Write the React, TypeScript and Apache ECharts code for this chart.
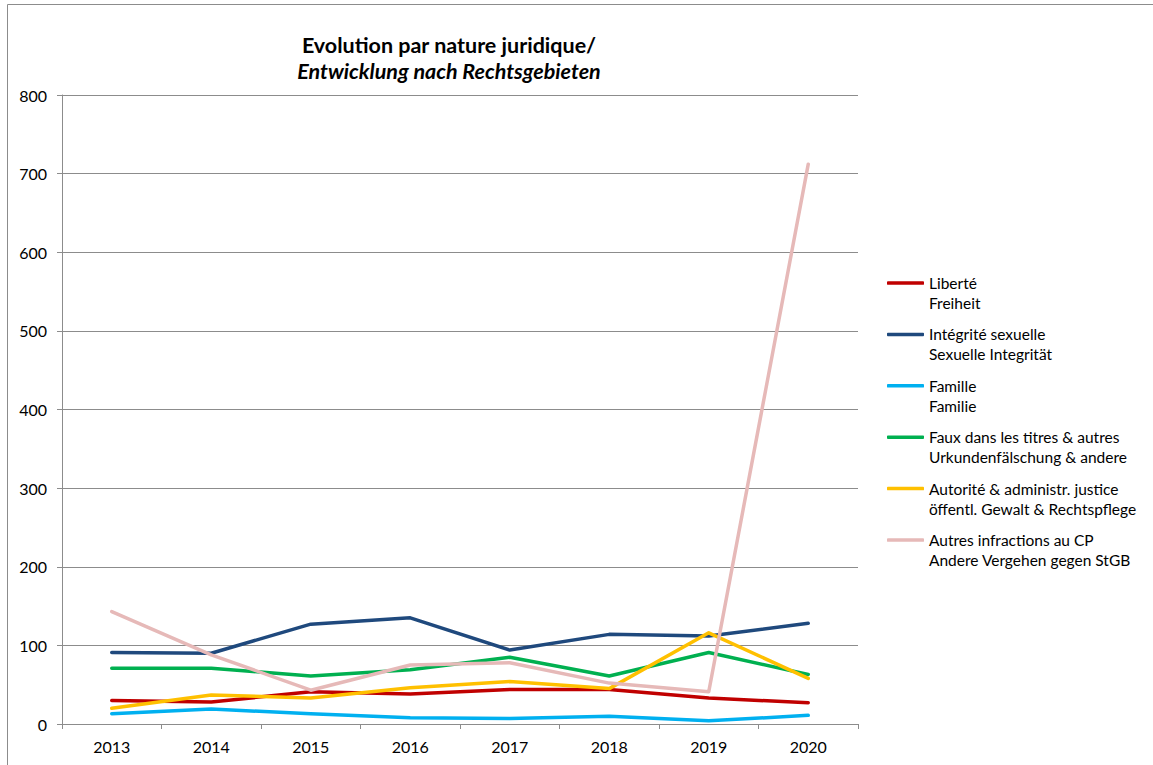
import React, { useEffect, useRef } from "react";
import * as echarts from "echarts";

const years = ["2013", "2014", "2015", "2016", "2017", "2018", "2019", "2020"];
const liberte = [30, 28, 41, 38, 44, 44, 33, 27];
const integrite = [91, 90, 127, 135, 94, 114, 112, 128];
const famille = [13, 19, 13, 8, 7, 10, 4, 11];
const faux = [71, 71, 61, 69, 85, 61, 91, 63];
const autorite = [20, 37, 33, 46, 54, 45, 116, 58];
const autres = [143, 88, 43, 75, 78, 52, 41, 712];

const seriesNames = [
  "Liberté\nFreiheit",
  "Intégrité sexuelle\nSexuelle Integrität",
  "Famille\nFamilie",
  "Faux dans les titres & autres\nUrkundenfälschung & andere",
  "Autorité & administr. justice\nöffentl. Gewalt & Rechtspflege",
  "Autres infractions au CP\nAndere Vergehen gegen StGB",
];
const seriesData = [liberte, integrite, famille, faux, autorite, autres];
const colors = ["#C00000", "#1F497D", "#00B0F0", "#00B050", "#FFC000", "#E6B9B8"];

const FONT = "Lato, 'Open Sans', sans-serif";

export default function App() {
  const ref = useRef<HTMLDivElement>(null);
  useEffect(() => {
    if (!ref.current) return;
    const chart = echarts.init(ref.current, undefined, { renderer: "svg" });
    chart.setOption({
      animation: false,
      backgroundColor: "#fff",
      textStyle: { fontFamily: FONT },
      grid: { left: 62, right: 295, top: 95, bottom: 41, containLabel: false },
      graphic: [
        {
          type: "rect",
          shape: { x: 7.5, y: 4.5, width: 1300, height: 900 },
          style: { fill: "none", stroke: "#8c8c8c", lineWidth: 1 },
          silent: true,
        },
        {
          type: "text",
          x: 449,
          y: 45,
          style: {
            text: "Evolution par nature juridique/",
            fontFamily: FONT,
            fontSize: 21.5,
            fontWeight: "bold",
            fill: "#000",
            align: "center",
            verticalAlign: "middle",
          },
        },
        {
          type: "text",
          x: 449,
          y: 71,
          style: {
            text: "Entwicklung nach Rechtsgebieten",
            fontFamily: FONT,
            fontSize: 21.5,
            fontWeight: "bold",
            fontStyle: "italic",
            fill: "#000",
            align: "center",
            verticalAlign: "middle",
          },
        },
      ],
      legend: {
        orient: "vertical",
        left: 887,
        top: 253,
        padding: 0,
        itemGap: -8.6,
        itemWidth: 37,
        itemHeight: 3.5,
        icon: "roundRect",
        data: seriesNames,
        formatter: (name: string) => " \n" + name,
        textStyle: {
          fontFamily: FONT,
          fontSize: 15.5,
          color: "#000",
          lineHeight: 20,
        },
      },
      xAxis: {
        type: "category",
        data: years,
        boundaryGap: true,
        axisLine: { show: true, lineStyle: { color: "#8c8c8c", width: 1 } },
        axisTick: { show: true, length: 5, lineStyle: { color: "#8c8c8c" } },
        axisLabel: { color: "#000", fontSize: 16, margin: 14, fontFamily: FONT },
        splitLine: { show: false },
      },
      yAxis: {
        type: "value",
        min: 0,
        max: 800,
        interval: 100,
        axisLine: { show: true, lineStyle: { color: "#8c8c8c", width: 1 } },
        axisTick: { show: true, length: 5, lineStyle: { color: "#8c8c8c" } },
        axisLabel: { color: "#000", fontSize: 16, margin: 15, fontFamily: FONT },
        splitLine: { show: true, lineStyle: { color: "#8c8c8c", width: 1 } },
      },
      series: seriesData.map((d, i) => ({
        name: seriesNames[i],
        type: "line",
        data: d,
        symbol: "none",
        showSymbol: false,
        lineStyle: { color: colors[i], width: 3.5, cap: "round", join: "round" },
        itemStyle: { color: colors[i] },
      })),
    });
    return () => chart.dispose();
  }, []);
  return (
    <div
      ref={ref}
      style={{ position: "fixed", left: 0, top: 0, width: 1153, height: 765 }}
    />
  );
}
